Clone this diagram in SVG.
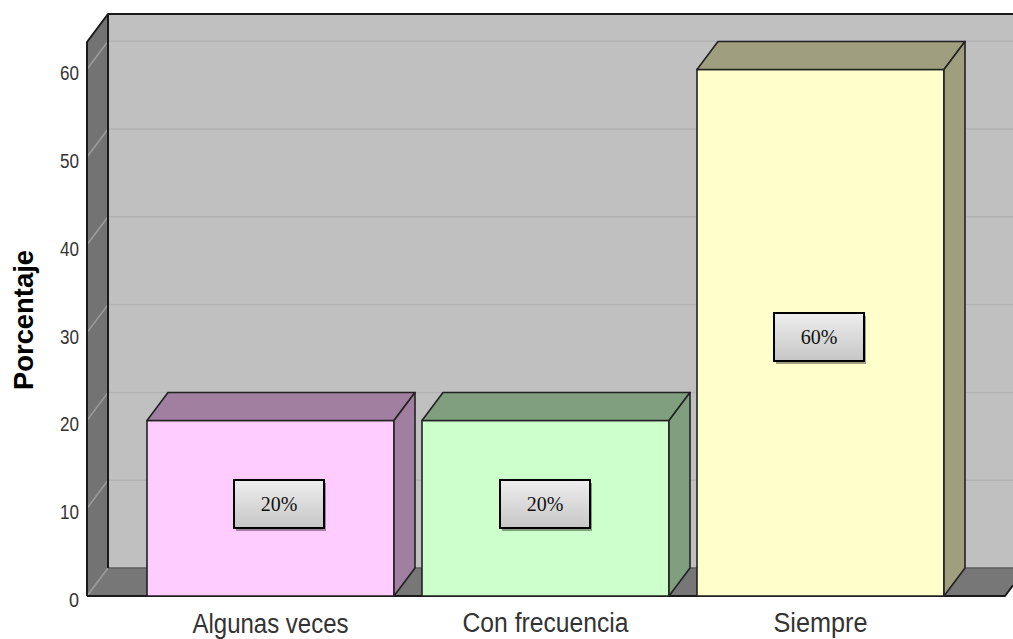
<svg xmlns="http://www.w3.org/2000/svg" width="1013" height="639" viewBox="0 0 1013 639">
<defs>
<linearGradient id="boxg" x1="0" y1="0" x2="0" y2="1">
<stop offset="0" stop-color="#eeeeee"/>
<stop offset="1" stop-color="#c6c6c6"/>
</linearGradient>
</defs>
<style>
.grid{stroke:#b2b2b2;stroke-width:1.5;fill:none}
.gridw{stroke:#9c9c9c;stroke-width:1.5;fill:none}
.edge{stroke:#1a1a1a;stroke-width:2;fill:none;stroke-linejoin:round}
.bar{stroke:#222222;stroke-width:1.6;stroke-linejoin:round}
.tick{font-family:"Liberation Sans",Arial,sans-serif;font-size:19.5px;fill:#333333;text-anchor:end}
.cat{font-family:"Liberation Sans",Arial,sans-serif;font-size:27px;fill:#333333;text-anchor:middle}
.axis{font-family:"Liberation Sans",Arial,sans-serif;font-size:27px;font-weight:bold;fill:#000000;text-anchor:middle}
.box{fill:url(#boxg);stroke:#000000;stroke-width:2}
.val{font-family:"Liberation Serif","Times New Roman",serif;font-size:20px;fill:#111111;text-anchor:middle}
</style>
<rect width="1013" height="639" fill="#ffffff"/>
<g id="plot">
<rect x="108" y="14" width="905" height="554" fill="#c0c0c0"/>
<polygon points="87,42 108,14 108,568 87,596" fill="#737373"/>
<polygon points="87,596 108,568 1013,568 1013,585.3 1005,596" fill="#777777"/>
<g id="gridlines">
<line class="grid" x1="108" y1="480.2" x2="1013" y2="480.2"/>
<line class="grid" x1="108" y1="392.4" x2="1013" y2="392.4"/>
<line class="grid" x1="108" y1="304.6" x2="1013" y2="304.6"/>
<line class="grid" x1="108" y1="216.8" x2="1013" y2="216.8"/>
<line class="grid" x1="108" y1="129" x2="1013" y2="129"/>
<line class="grid" x1="108" y1="41.2" x2="1013" y2="41.2"/>
<line class="gridw" x1="87" y1="508.2" x2="108" y2="480.2"/>
<line class="gridw" x1="87" y1="420.4" x2="108" y2="392.4"/>
<line class="gridw" x1="87" y1="332.6" x2="108" y2="304.6"/>
<line class="gridw" x1="87" y1="244.8" x2="108" y2="216.8"/>
<line class="gridw" x1="87" y1="157" x2="108" y2="129"/>
<line class="gridw" x1="87" y1="69.2" x2="108" y2="41.2"/>
<line class="gridw" x1="87" y1="596" x2="108" y2="568"/>
<line x1="108" y1="568" x2="1013" y2="568" stroke="#5e5e5e" stroke-width="1.5"/>
</g>
<path class="edge" d="M87,596 L87,42 L108,14 L1013,14 M108,14 L108,568"/>
<path class="edge" d="M87,596 L1005,596 L1013,585.3"/>
</g>
<g id="ticks">
<text class="tick" x="79" y="607" textLength="10" lengthAdjust="spacingAndGlyphs">0</text>
<text class="tick" x="79" y="519.2" textLength="19" lengthAdjust="spacingAndGlyphs">10</text>
<text class="tick" x="79" y="431.4" textLength="19" lengthAdjust="spacingAndGlyphs">20</text>
<text class="tick" x="79" y="343.6" textLength="19" lengthAdjust="spacingAndGlyphs">30</text>
<text class="tick" x="79" y="255.8" textLength="19" lengthAdjust="spacingAndGlyphs">40</text>
<text class="tick" x="79" y="168" textLength="19" lengthAdjust="spacingAndGlyphs">50</text>
<text class="tick" x="79" y="80.2" textLength="19" lengthAdjust="spacingAndGlyphs">60</text>
</g>
<text id="ylabel" class="axis" transform="translate(33,320) rotate(-90)" textLength="140" lengthAdjust="spacingAndGlyphs">Porcentaje</text>
<g id="bar-algunas">
<rect class="bar" x="147" y="420.5" width="247" height="175.5" fill="#ffccff"/>
<polygon class="bar" points="147,420.5 168,392.5 415,392.5 394,420.5" fill="#a07fa0"/>
<polygon class="bar" points="394,420.5 415,392.5 415,568 394,596" fill="#a07fa0"/>
<rect x="236" y="483" width="90" height="48" fill="#a07fa0"/>
<rect class="box" x="234" y="480" width="90" height="48"/>
<text class="val" x="279" y="511">20%</text>
<text class="cat" x="270.5" y="633" textLength="156" lengthAdjust="spacingAndGlyphs">Algunas veces</text>
</g>
<g id="bar-frecuencia">
<rect class="bar" x="422" y="420.5" width="247" height="175.5" fill="#ccffcc"/>
<polygon class="bar" points="422,420.5 443,392.5 690,392.5 669,420.5" fill="#7f9f7f"/>
<polygon class="bar" points="669,420.5 690,392.5 690,568 669,596" fill="#7f9f7f"/>
<rect x="502" y="483" width="90" height="48" fill="#7f9f7f"/>
<rect class="box" x="500" y="480" width="90" height="48"/>
<text class="val" x="545" y="511">20%</text>
<text class="cat" x="545.5" y="632" textLength="166" lengthAdjust="spacingAndGlyphs">Con frecuencia</text>
</g>
<g id="bar-siempre">
<rect class="bar" x="697" y="69.5" width="247" height="526.5" fill="#ffffcc"/>
<polygon class="bar" points="697,69.5 718,41.5 965,41.5 944,69.5" fill="#9f9f7f"/>
<polygon class="bar" points="944,69.5 965,41.5 965,568 944,596" fill="#9f9f7f"/>
<rect x="776" y="316" width="90" height="48" fill="#9f9f7f"/>
<rect class="box" x="774" y="313" width="90" height="48"/>
<text class="val" x="819" y="344">60%</text>
<text class="cat" x="820.5" y="632" textLength="94" lengthAdjust="spacingAndGlyphs">Siempre</text>
</g>
</svg>
